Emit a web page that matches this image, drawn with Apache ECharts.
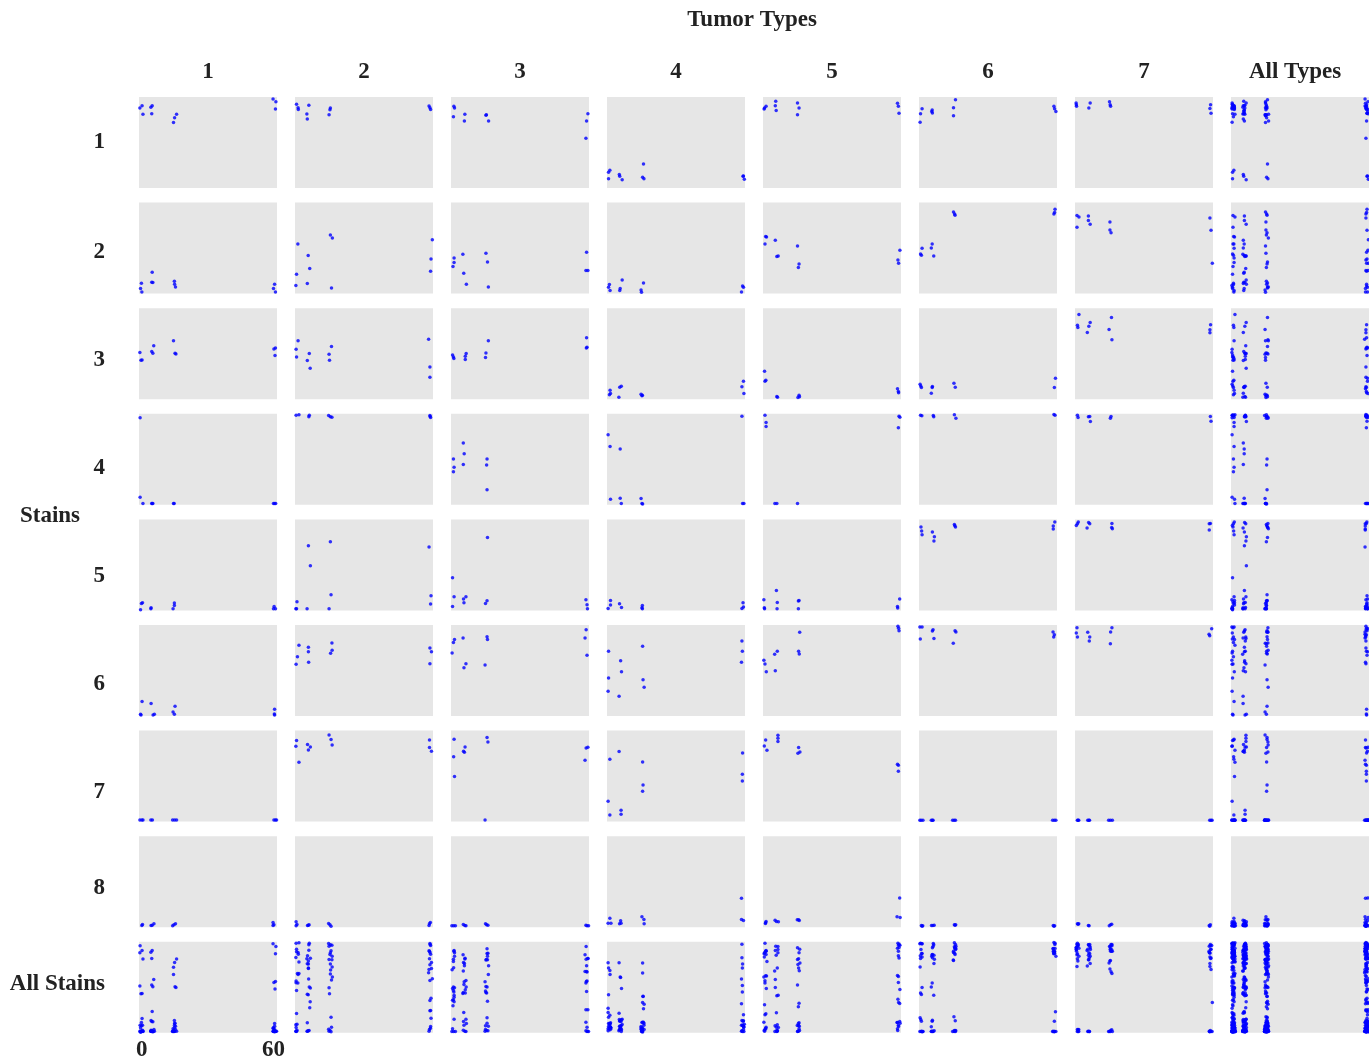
<!DOCTYPE html>
<html>
<head>
<meta charset="utf-8">
<title>Tumor Types by Stains</title>
<script src="https://cdn.jsdelivr.net/npm/echarts@6/dist/echarts.min.js"></script>
<style>
  html, body { margin: 0; padding: 0; background: #ffffff; }
  #chart { width: 1369px; height: 1062px; }
</style>
</head>
<body>
<div id="chart"></div>
<script>
// Column (tumor type) and row (stain) headings
const typeLabels = ['1', '2', '3', '4', '5', '6', '7', 'All Types'];
const stainLabels = ['1', '2', '3', '4', '5', '6', '7', '8', 'All Stains'];
const xTicks = [0, 60];

// Each stain: one list of [time, value] points per tumor type 1..7
const stain1 = [
  [[-0.8,88],[0.2,90.5],[0.6,81],[4.2,88.6],[4.8,90.5],[4.6,81.7],[14.5,72],[15,77.3],[15.9,81],[59.8,97.8],[61.1,94.9],[60.9,86.8]],
  [[-0.5,91.9],[0.2,88.3],[0.3,86.4],[5.1,90.8],[4.2,81.3],[4.4,75.8],[14.9,87.9],[14.7,86.1],[14.3,80.6],[59.8,90.1],[60.2,88.3],[60.5,86.4]],
  [[0.1,89.7],[0.4,87.9],[-0.1,78.4],[5.1,81],[4.9,73.6],[14.9,80.6],[14.7,80],[15.9,73.6],[61.1,81.7],[60.5,73.6],[60.2,54.6]],
  [[-0.5,17.2],[0.1,19.4],[-0.5,10.3],[4.4,14.7],[4.6,12.8],[5.7,9.2],[15.4,26.4],[15,11.7],[15.6,10.3],[60.9,13.2],[61.3,9.5],[60.7,12.8]],
  [[-0.5,87.9],[0.2,89.7],[-0.7,86.8],[4.6,95.2],[4.4,90.5],[4.8,85.3],[14.5,93.4],[15.2,87.9],[14.5,80.6],[60,93],[60.4,89.7],[60.7,82.1]],
  [[0.2,87.2],[-0.5,81.7],[-0.7,72.2],[4.8,85.7],[4.9,82.4],[4.6,84],[15.4,97.1],[14.5,88.3],[14.5,79.5],[60.2,89.7],[60.5,87.2],[61.1,84.2]],
  [[-0.7,93.4],[-0.5,89.7],[-0.6,91.5],[5.7,93.4],[5.1,87.9],[14.5,94.9],[15,89.7],[14.8,91.5],[60.5,91.6],[60.2,87.5],[60.7,82.1]]
];
const stain2 = [
  [[-0.1,11.4],[-0.5,5.5],[0.1,1.8],[4.8,23.4],[4.6,12.5],[5.1,12.1],[14.9,13.6],[15,10.3],[15.4,7.3],[60.5,10.3],[60,5.5],[60.9,1.8]],
  [[0.1,54.6],[-0.5,21.2],[-0.8,8.8],[4.8,41.8],[5.5,27.5],[4.4,11],[14.9,64.5],[15.8,61.2],[15.4,6.2],[61.3,59.3],[60.7,38.1],[60.5,24.5]],
  [[0.2,39.2],[0.2,34.1],[-0.3,29.7],[4.2,43.2],[4.6,22.3],[5.8,10.3],[14.7,44.3],[15.4,34.8],[15.8,7.3],[60.5,45.4],[60.2,25.3],[61.1,25.3]],
  [[-0.1,9.9],[-0.5,7],[0.2,3.3],[5.7,15],[4.8,5.5],[4.6,3.3],[15.4,11.7],[14.3,4],[14.5,1.5],[60.5,8.4],[60.9,7],[60,1.8]],
  [[0.4,62.3],[0,62.7],[-0.3,54.6],[4.4,58.6],[5.1,40.7],[5.7,41.4],[14.5,52.4],[15.2,32.6],[14.9,28.6],[61.1,47.6],[60.2,37],[60.5,33.3]],
  [[0.2,49.8],[-0.5,43.6],[-0.1,42.1],[4.8,54.6],[4.4,50.2],[5.5,41.4],[14.5,89.7],[15,87.5],[15.2,86.1],[60.7,92.7],[60.2,87.5],[60.5,89]],
  [[-0.3,85.7],[0.6,84.2],[-0.3,72.9],[4.9,85.3],[4.9,80.2],[5.7,76.2],[14.7,78.8],[14.7,70],[15.2,67],[60.2,83.2],[60.7,69.6],[61.3,33.3]]
];
const stain3 = [
  [[-0.8,51.3],[-0.3,42.9],[0.2,43.2],[5.5,58.6],[4.6,52.4],[5.1,50.5],[14.5,64.1],[15.2,50.5],[15.6,49.8],[60.9,56.4],[60.2,55.3],[60.7,48]],
  [[0.2,64.1],[-0.7,54.9],[-0.5,46.5],[5.3,50.2],[4.4,42.5],[5.7,34.1],[15.4,57.9],[14.3,49.5],[14.5,42.9],[59.6,65.9],[60.2,35.5],[60.2,24.2]],
  [[-0.5,48.7],[-0.1,46.5],[0.1,44.7],[5.7,50.2],[5.3,47.3],[5.3,43.6],[15.8,64.1],[14.7,50.9],[14.5,45.8],[60.5,67.4],[60.4,56.4],[60.7,57]],
  [[0.2,9.9],[-0.1,4.8],[0.4,6.2],[4.6,13.2],[5.3,14.3],[4.2,2.2],[14.3,5.5],[14.7,3.7],[14.9,4.4],[60.9,19.8],[60.2,13.6],[61.1,6.2]],
  [[-0.5,30.8],[-0.3,19.8],[0.1,20.9],[5.1,2.9],[5.4,2.2],[15.2,4.4],[14.7,1.8],[15.4,2.6],[60,11.4],[60.4,8.4],[60.5,7]],
  [[-0.7,16.5],[-0.1,12.8],[-0.4,14.5],[4.8,12.8],[4.9,13.9],[4.4,6.6],[14.7,17.6],[15.3,13.2],[60.9,23.1],[60.4,12.8]],
  [[0.6,93],[-0.1,81.3],[0.1,78.8],[5.7,84.2],[5.1,80.2],[4.4,73.3],[15.4,89.7],[14.3,76.6],[15.6,65.2],[60.5,81.7],[60.2,76.2],[60.2,72.9]]
];
const stain4 = [
  [[-0.7,95.6],[-0.7,8.4],[0.6,1.5],[4.6,1.5],[5.1,1.5],[4.8,1.5],[14.5,1.5],[14.8,1.5],[60,1.5],[60.5,1.5],[61,1.5]],
  [[-0.7,98.5],[0.6,98.9],[5.3,98.5],[5.1,96.7],[14.1,98.2],[14.9,96.7],[15.6,96.3],[60.2,98.2],[60.5,96],[60.3,97]],
  [[-0.1,50.2],[0.2,41.4],[-0.1,36.3],[4.4,67.8],[4.8,56],[4.4,44.3],[15.2,50.2],[15,43.6],[15.2,16.5]],
  [[-0.7,76.9],[0.2,64.1],[4.8,61.2],[0.4,6.2],[4.8,7.3],[5.3,1.5],[14.3,7],[14.7,1.5],[15,1],[60.2,97.4],[60.5,1.5],[61.1,1.5]],
  [[-0.3,98.5],[0.2,90.5],[0.2,86.1],[4.2,1.5],[5.1,1.5],[14.5,1.5],[61.1,96.3],[60.7,97.4],[60.4,84.6]],
  [[-0.5,98.5],[0.1,97.8],[5.3,98.2],[5.5,96.7],[14.9,98.9],[15.6,95.2],[60.2,99.3],[60.7,98.5]],
  [[-0.1,98.5],[0.2,96],[4.9,96.7],[5.5,97.1],[5.8,91.6],[15.2,97.1],[14.9,95.2],[60.4,97.1],[60.7,91.9]]
];
const stain5 = [
  [[-0.1,7.7],[0.4,8.4],[-0.5,0.7],[4.3,2.9],[4.2,1.8],[14.9,8.1],[14.9,5.5],[14.3,1.8],[60.3,4.4],[60,1.8],[60.9,1.8]],
  [[4.9,71.1],[5.8,49.1],[-0.3,9.5],[-0.5,1.8],[-0.8,1.8],[4.3,1.8],[14.9,75.5],[15.2,17.2],[14.3,1.8],[59.8,69.6],[60.7,16.1],[60.5,7]],
  [[15.4,80.2],[-0.5,35.9],[0.2,15],[-0.5,4.4],[4.5,12.5],[5.6,15],[4.7,8.4],[15.2,10.6],[14.5,7.7],[60.2,11.7],[60.7,6.2],[60.9,1.8]],
  [[0.4,11],[0.4,5.9],[-0.7,2.2],[4.5,7.3],[5.4,3.3],[14.9,5.5],[14.7,2.9],[14.9,1.8],[60.7,8.4],[60.9,3.7],[60.2,2.2]],
  [[-0.8,11.7],[-0.6,2.9],[-0.5,1.8],[4.9,22],[5.3,8.8],[5.2,1.8],[15.2,11],[14.9,10.3],[14.9,1.8],[61,12.5],[60,4.4],[60.1,2.6]],
  [[-0.3,91.6],[0,87.2],[0.2,83.2],[4.9,86.1],[5.8,80.9],[5.6,76.2],[14.9,94.5],[15.4,91.6],[15.1,93],[60.6,97.1],[59.9,92.7],[59.9,89.4]],
  [[-0.1,95.2],[0.3,97.1],[-0.6,93.4],[5,96.7],[5.5,95.2],[4.3,90.5],[15.6,95.6],[15.5,91.2],[15.8,89.7],[59.9,95.2],[60.4,95.6],[59.9,88.3]]
];
const stain6 = [
  [[0.2,15.8],[-0.5,1.8],[-0.3,1.2],[4.3,13.6],[5.2,1.1],[5.8,1.8],[15.2,10.6],[14.3,4.4],[14.9,1.8],[60.5,7.3],[60.4,2.2],[60.5,1.1]],
  [[0.6,77.7],[-0.1,65.2],[-0.7,56.8],[4.9,75.5],[4.9,70.7],[5,59],[15.6,80.2],[15.7,72.2],[15,68.9],[60.2,74.7],[60.9,70.7],[60.2,57.5]],
  [[0.4,84.2],[-0.1,80.9],[-0.7,69.2],[4.3,85.7],[5.6,57.5],[4.7,53.1],[15.2,87.2],[15.4,84.2],[14.3,56],[60.3,94.9],[59.8,85.7],[60.7,66.7]],
  [[-0.5,71.1],[-0.5,41.8],[-0.7,27.1],[5,60.8],[5.4,48.7],[4.3,21.6],[15,76.6],[15.2,39.9],[15.7,31.5],[60.2,82.4],[60.4,71.1],[60,59]],
  [[-0.8,61.2],[-0.3,57.1],[0.3,48.7],[5.3,71.1],[4.1,67.8],[4.4,49.8],[15.5,91.9],[15,71.1],[15.3,68.1],[60.2,98.5],[60.5,96.3],[60.7,93.8]],
  [[-0.8,97.8],[0.2,97.8],[-0.6,84.6],[4.9,93.4],[5.2,94.9],[5.6,85.3],[15.2,93.8],[15.6,92.3],[14.4,79.9],[59.8,92.3],[60.4,89.4],[60.1,86.8]],
  [[-0.3,97.1],[-0.6,91.2],[-0.1,86.8],[4.6,91.9],[5.5,86.8],[5.3,82.4],[15.6,97.1],[15,92.3],[14.9,79.5],[61,96],[59.8,89.7],[60.1,88.3]]
];
const stain7 = [
  [[-0.8,1.8],[0.1,1.8],[0.6,1.8],[4.2,1.8],[4.9,1.8],[14.1,1.8],[15,1.8],[15.9,1.8],[60.2,1.8],[60.9,1.8],[61.4,1.8]],
  [[-0.5,89],[-0.8,82.8],[0.6,65.2],[4.5,84.6],[5.8,82],[4.9,78.8],[14.3,95.2],[15.2,90.1],[15.7,84.2],[60,89.7],[60,81.3],[60.9,77.3]],
  [[0.2,90.5],[0,71.4],[0.4,49.5],[5.2,82],[4.5,77.3],[4.9,76.2],[15.2,92.3],[15.6,87.5],[14.3,1.8],[60.3,80.9],[61.1,81.7],[59.8,67.4]],
  [[0.1,68.5],[4.3,76.9],[-0.7,22.3],[0.1,7.3],[5.2,12.5],[5.2,8.1],[15,65.6],[15.2,40.3],[15,33.3],[60.5,75.5],[60.4,52],[60.4,44.7]],
  [[0,89.7],[-0.6,83.2],[0.6,78.4],[5.6,94.9],[5.6,91.6],[5.6,87.9],[15,81.3],[14.7,75.1],[15.6,76.6],[60,63],[60.4,61.9],[60.4,55.3]],
  [[-0.8,1.5],[-0.2,1.5],[0.6,1.5],[4.4,1.5],[4.9,1.5],[5.2,1.5],[14.1,1.5],[14.8,1.5],[15.4,1.5],[59.6,1.5],[60.4,1.5],[61.1,1.5]],
  [[-0.1,1.5],[0.5,1.5],[0.2,1.5],[4.6,1.5],[5.4,1.5],[5.1,1.5],[14.1,1.5],[14.9,1.5],[15.8,1.5],[60.1,1.5],[60.7,1.5],[61.2,1.5]]
];
const stain8 = [
  [[0.1,1.8],[0.4,2.9],[4.3,1.8],[4.8,2.2],[5.6,3.7],[14.1,1.5],[14.7,2.6],[15.4,3.7],[59.8,5.1],[59.8,1.8],[60.2,2.6]],
  [[-0.7,5.9],[-0.3,2.9],[-0.7,1.5],[4.5,1.8],[5.2,2.6],[4.9,2.2],[14.1,4],[14.7,2.6],[15.2,1.1],[60,3.7],[60.4,5.1],[59.8,1.8]],
  [[-0.8,1.5],[0,1.5],[0.8,1.5],[4.4,2.9],[5.1,1.8],[5.6,1.5],[14.5,3.7],[15,2.6],[15.6,2.2],[60.2,2.2],[60.7,1.5],[61.4,1.5]],
  [[0.1,9.9],[-0.7,4.4],[0.6,4.4],[5,7],[5.2,4.4],[4.5,3.7],[14.7,11.4],[15.6,8.4],[15.7,3.7],[60,31.9],[60,8.4],[60.9,7.3]],
  [[0.2,6.2],[-0.1,4],[0,5],[4.3,7.7],[4.9,6.2],[5.8,5.9],[14.4,8.1],[15,8.1],[15.3,7.3],[61,32.2],[59.8,11.4],[61.2,10.6]],
  [[-0.1,1.8],[0.5,1.5],[0.2,1.1],[4.5,1.8],[5.1,1.8],[5.7,2.2],[14.9,2.6],[15.5,2.6],[15.2,2.2],[59.9,1.8],[60.2,1.1],[60.5,1.5]],
  [[-0.1,3.7],[0.5,3.7],[0.2,3.3],[4.9,1.8],[5.2,1.5],[14.4,1.5],[15,2.6],[15.5,3.3],[59.9,1.8],[60.4,2.6],[60.1,1.1]]
];

const stains = [stain1, stain2, stain3, stain4, stain5, stain6, stain7, stain8];

// Panel geometry
const PANEL_W = 138, PANEL_H = 91;
const LEFT0 = 139, COL_STEP = 156;
const TOP0 = 97, ROW_STEP = 105.6;
// Heading placement (pixels)
const rowLabelY = [142, 252, 360, 468, 576, 684, 792, 888, 984];
const colLabelX = [208, 364, 520, 676, 832, 988, 1144, 1295];
const FONT = '"Liberation Serif", "DejaVu Serif", serif';
const TEXT_COLOR = '#222222';

function panelPoints(r, c) {
  const nT = typeLabels.length - 1, nS = stainLabels.length - 1;
  if (r < nS && c < nT) return stains[r][c];
  if (r < nS) return stains[r].flat(1);                 // All Types
  if (c < nT) return stains.map(s => s[c]).flat(1);     // All Stains
  return stains.map(s => s.flat(1)).flat(1);            // All Types x All Stains
}

const grid = [], xAxis = [], yAxis = [], series = [];
let idx = 0;
for (let r = 0; r < stainLabels.length; r++) {
  for (let c = 0; c < typeLabels.length; c++) {
    const isCorner = (r === stainLabels.length - 1 && c === 0);
    grid.push({
      left: LEFT0 + c * COL_STEP,
      top: TOP0 + r * ROW_STEP,
      width: PANEL_W,
      height: PANEL_H,
      show: true,
      backgroundColor: '#e6e6e6',
      borderWidth: 0
    });
    xAxis.push({
      type: 'value', gridIndex: idx, min: -1.2, max: 61.6,
      show: isCorner,
      axisLine: { show: false }, axisTick: { show: false }, splitLine: { show: false },
      axisLabel: {
        show: isCorner, customValues: xTicks, margin: 6,
        fontFamily: FONT, fontWeight: 'bold', fontSize: 23, color: TEXT_COLOR
      }
    });
    yAxis.push({
      type: 'value', gridIndex: idx, min: 0, max: 100, show: false,
      splitLine: { show: false }
    });
    series.push({
      type: 'scatter', xAxisIndex: idx, yAxisIndex: idx,
      data: panelPoints(r, c),
      symbol: 'circle', symbolSize: 3.5,
      itemStyle: { color: '#0000ff' },
      silent: true, animation: false
    });
    idx++;
  }
}

// Headings
const textStyle = (extra) => Object.assign({
  fontFamily: FONT, fontWeight: 'bold', fontSize: 23, fill: TEXT_COLOR
}, extra);
const graphic = [];
graphic.push({ type: 'text', x: 752, y: 20, style: textStyle({ text: 'Tumor Types', align: 'center', verticalAlign: 'middle' }) });
typeLabels.forEach((t, c) => {
  graphic.push({ type: 'text', x: colLabelX[c], y: 72,
    style: textStyle({ text: t, align: 'center', verticalAlign: 'middle' }) });
});
stainLabels.forEach((s, r) => {
  graphic.push({ type: 'text', x: 105, y: rowLabelY[r],
    style: textStyle({ text: s, align: 'right', verticalAlign: 'middle' }) });
});
graphic.push({ type: 'text', x: 50, y: 516, style: textStyle({ text: 'Stains', align: 'center', verticalAlign: 'middle' }) });

const chart = echarts.init(document.getElementById('chart'), null, { renderer: 'canvas' });
chart.setOption({
  backgroundColor: '#ffffff',
  animation: false,
  grid, xAxis, yAxis, series, graphic
});
</script>
</body>
</html>
